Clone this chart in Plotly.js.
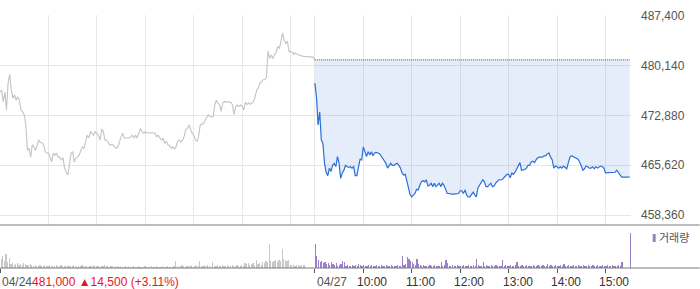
<!DOCTYPE html>
<html>
<head>
<meta charset="utf-8">
<script src="https://cdn.plot.ly/plotly-3.0.1.min.js"></script>
<style>
html,body{margin:0;padding:0;background:#fff;}
#chart{width:700px;height:289px;}
</style>
</head>
<body>
<div id="chart"></div>
<script>
// Intraday sampling times (shared by both sessions)
const times = [
"09:00","09:02","09:04","09:06","09:08","09:10","09:12","09:14","09:16","09:18","09:20","09:22","09:24","09:26","09:28","09:30","09:32","09:34","09:36","09:38","09:40","09:42","09:44","09:46","09:48","09:50","09:52","09:54","09:56","09:58",
"10:00","10:02","10:04","10:06","10:08","10:10","10:12","10:14","10:16","10:18","10:20","10:22","10:24","10:26","10:28","10:30","10:32","10:34","10:36","10:38","10:40","10:42","10:44","10:46","10:48","10:50","10:52","10:54","10:56","10:58",
"11:00","11:02","11:04","11:06","11:08","11:10","11:12","11:14","11:16","11:18","11:20","11:22","11:24","11:26","11:28","11:30","11:32","11:34","11:36","11:38","11:40","11:42","11:44","11:46","11:48","11:50","11:52","11:54","11:56","11:58",
"12:00","12:02","12:04","12:06","12:08","12:10","12:12","12:14","12:16","12:18","12:20","12:22","12:24","12:26","12:28","12:30","12:32","12:34","12:36","12:38","12:40","12:42","12:44","12:46","12:48","12:50","12:52","12:54","12:56","12:58",
"13:00","13:02","13:04","13:06","13:08","13:10","13:12","13:14","13:16","13:18","13:20","13:22","13:24","13:26","13:28","13:30","13:32","13:34","13:36","13:38","13:40","13:42","13:44","13:46","13:48","13:50","13:52","13:54","13:56","13:58",
"14:00","14:02","14:04","14:06","14:08","14:10","14:12","14:14","14:16","14:18","14:20","14:22","14:24","14:26","14:28","14:30","14:32","14:34","14:36","14:38","14:40","14:42","14:44","14:46","14:48","14:50","14:52","14:54","14:56","14:58",
"15:00","15:02","15:04","15:06","15:08","15:10","15:12","15:14","15:16","15:18","15:20","15:22","15:24","15:26","15:28","15:30"
];

// 04/24 session prices
const priceDay1 = [
476300,476600,474900,476300,473700,477600,478900,476600,475400,475900,
475100,475600,475100,473700,473400,473000,471500,467800,468100,466800,
468600,468300,467800,468600,469300,468900,468900,468600,467600,467400,
467400,466800,466100,467400,467100,467400,466800,466800,466400,466700,
465200,464600,464200,465700,467400,467600,466100,466700,466800,467100,
467600,468300,468100,469100,470000,469600,470500,470300,470000,470500,
470300,470000,469300,470900,470500,469300,469300,468900,468600,468600,
468600,468300,468100,468300,469100,469800,470300,469600,469600,469600,
469600,469800,470000,469600,470000,469600,470300,471000,470500,470300,
470500,470300,470400,470300,470400,470300,470300,469800,470000,469600,
469300,469600,468800,469100,468600,468500,468100,468300,468000,468300,
469100,469300,469000,469200,469800,470800,471000,471500,470800,470300,
470000,469300,469100,469800,471500,471600,471700,472200,472700,473000,
472700,472700,472700,474400,475100,474700,474400,473500,474800,474900,
474900,474900,474900,474800,474400,473000,474200,474400,474200,474400,
474200,473700,474800,474500,474700,474500,474700,474900,475600,476600,
476900,477600,477800,478100,478100,478400,482300,481200,481700,481200,
481800,482000,482900,482700,483700,484900,483900,483400,483700,482200,
482200,482100,481800,482000,481800,481700,481600,481600,481500,481500,
481500,481500,481500,481500,481400,481000
];

// 04/27 session prices
const priceDay2 = [
477600,475600,471500,473400,469300,468800,465900,464600,464100,465200,
464700,465600,465900,465400,466900,465900,463700,464500,464900,465600,
465400,465300,465400,465200,465400,464100,464100,465600,466500,466400,
468300,467600,466900,467600,467100,467600,467000,467400,467500,467400,
467300,467000,466600,466400,465900,465200,465600,465900,465600,465600,
465800,465900,465600,465200,464500,464200,464300,463300,462000,461300,
461000,461300,461500,462100,462000,462700,463200,463400,463200,463500,
462600,462700,463000,462500,463000,462500,462700,463000,462500,463000,
462700,462000,461500,461500,461400,461400,461400,461400,461400,461500,
461900,461900,461500,462000,461300,461000,461000,461300,461700,461300,
461000,462300,462700,463200,463500,463200,462500,462500,462700,463000,
462500,462600,463000,463300,463500,463500,463500,463800,464100,464300,
464300,463800,464500,464300,464600,465100,465400,466000,464900,464900,
465000,465200,465600,465600,466100,466200,466000,466400,466700,466800,
466800,466800,467000,467000,467300,467400,466800,466400,465200,465500,
465400,465200,465400,465200,465500,465300,465100,466000,466800,467000,
466900,466800,466700,466500,466100,465400,464900,465100,465500,465400,
465200,465200,465400,465100,465400,465200,465400,465500,465400,465200,
464500,464500,464500,464500,464500,464500,464600,464900,464600,464200,
463900,463900,463900,463900,463900,463900
];

// Volume (thousand shares)
const volDay1 = [
15,9,12,7,14,6,10,4,5,3,
4,5,3,4,3,5,4,3,3,4,
3,2,3,2,2,3,2,2,3,2,
2,3,2,2,2,3,2,2,3,2,
2,2,3,2,2,2,3,2,1,2,
2,3,2,2,2,1,2,2,3,2,
2,2,1,2,2,3,2,2,1,2,
2,1,2,2,1,2,1,1,2,1,
2,1,1,2,1,1,2,1,1,1,
2,1,1,1,2,1,1,2,1,1,
1,2,1,1,2,1,1,1,2,7,
2,1,2,3,2,1,2,2,3,2,
1,2,3,2,7,2,2,3,2,3,
2,1,6,2,2,3,2,2,3,2,
2,3,2,2,3,2,2,3,2,2,
3,2,5,4,5,3,4,5,3,8,
4,5,3,6,5,7,6,24,7,6,
7,8,6,8,7,19,9,8,7,8,
3,3,3,2,3,3,2,3,3,3,
0,0,0,0,0,0
];
const volDay2 = [
24,12,8,6,7,5,6,4,5,3,
6,4,3,5,2,3,4,7,6,2,
3,2,2,3,2,3,2,4,3,2,
3,2,2,3,2,3,2,2,3,2,
2,3,2,2,3,2,2,3,2,2,
2,3,2,2,12,3,4,11,9,7,
6,4,3,9,4,3,2,3,2,2,
2,3,2,2,3,2,2,2,6,2,
3,8,5,2,2,3,2,2,3,2,
2,2,3,2,2,3,2,2,3,2,
9,3,2,2,6,2,3,2,2,3,
2,2,3,2,2,2,8,2,3,2,
2,3,2,2,3,6,2,2,3,2,
2,3,2,2,2,3,2,2,3,2,
2,3,2,2,4,2,3,2,2,3,
2,2,3,2,4,2,2,3,2,2,
3,2,2,3,2,2,3,2,2,3,
2,2,3,2,2,3,2,2,3,2,
2,3,2,2,3,2,2,2,3,2,
6,0,0,0,0,35
];

const prevClose = 481000;           // 04/24 close (reference line for 04/27)
const dayLabels = ["04/24", "04/27"];
const hourLabels = ["10:00", "11:00", "12:00", "13:00", "14:00", "15:00"];
const priceInfo = "481,000 \u25B214,500 (+3.11%)";
const yTickVals = [458360, 465620, 472880, 480140, 487400];
const yTickText = ["458,360", "465,620", "472,880", "480,140", "487,400"];
const volumeLabel = "거래량";

// ---- build axis positions from the times ----
const SESSION = 390; // minutes 09:00-15:30
function toMin(t) { const p = t.split(":"); return (+p[0] - 9) * 60 + (+p[1]); }
const xDay1 = times.map(toMin);
const xDay2 = times.map(t => SESSION + toMin(t));
const hourX1 = [1,2,3,4,5,6].map(h => h * 60);
const hourX2 = hourLabels.map(t => SESSION + toMin(t));
const gridX = [0].concat(hourX1, [SESSION], hourX2);
const tickX2 = [0, SESSION].concat(hourX2);

const GRAY = '#c3c3c8', BLUE = '#2b6fd8', PURPLE = '#9a80c8', VGRAY = '#c8c8c8';

const XMAX = 2 * SESSION + 1.6;
const traces = [
  { x: xDay1, y: priceDay1, type: 'scatter', mode: 'lines', line: {color: GRAY, width: 1.1}, hoverinfo: 'skip', xaxis: 'x', yaxis: 'y' },
  { x: [SESSION, 2 * SESSION], y: [prevClose, prevClose], type: 'scatter', mode: 'lines',
    line: {color: '#555', width: 1, dash: '1px,1px'}, hoverinfo: 'skip', xaxis: 'x', yaxis: 'y' },
  { x: xDay2, y: priceDay2, type: 'scatter', mode: 'lines', line: {color: BLUE, width: 1.2},
    fill: 'tonexty', fillcolor: 'rgba(45,105,215,0.12)', hoverinfo: 'skip', xaxis: 'x', yaxis: 'y' },
  { x: xDay1, y: volDay1, type: 'bar', marker: {color: VGRAY, line: {width: 0}}, width: 1.5, hoverinfo: 'skip', xaxis: 'x2', yaxis: 'y2' },
  { x: xDay2, y: volDay2, type: 'bar', marker: {color: PURPLE, line: {width: 0}}, width: 1.5, hoverinfo: 'skip', xaxis: 'x2', yaxis: 'y2' }
];

const W = 700, H = 289, ML = 0, MT = 15, MB = 21;
const plotW = 630 * XMAX / (2 * SESSION);
const MR = W - ML - plotW;
const plotH = H - MT - MB;
const volFrac = 43 / plotH;
const pxX = px => (px - ML) / plotW;
const pxY = py => (H - MB - py) / plotH;

const FONT = '"Liberation Sans", Arial, "Noto Sans CJK KR", sans-serif';

const annotations = [
  { xref: 'x', yref: 'paper', x: 0, y: pxY(282), xanchor: 'left', yanchor: 'middle', showarrow: false,
    text: dayLabels[0] + '<span style="color:#e8141e">' + priceInfo + '</span>', font: {size: 12, color: '#555', family: FONT} },
  { xref: 'x', yref: 'paper', x: SESSION, y: pxY(282), xanchor: 'left', yanchor: 'middle', showarrow: false,
    text: dayLabels[1], font: {size: 12, color: '#555', family: FONT} },
  { xref: 'paper', yref: 'paper', x: pxX(657), y: pxY(238), xanchor: 'left', yanchor: 'middle', showarrow: false,
    text: volumeLabel, font: {size: 11, color: '#555', family: FONT} }
].concat(hourLabels.map((lab, i) => ({
  xref: 'x', yref: 'paper', x: hourX2[i], xshift: 9, y: pxY(282), xanchor: 'center', yanchor: 'middle', showarrow: false,
  text: lab, font: {size: 12, color: '#333', family: FONT}
})));

const layout = {
  width: W, height: H,
  margin: {l: ML, r: MR, t: MT, b: MB, pad: 0},
  paper_bgcolor: '#fff', plot_bgcolor: '#fff',
  showlegend: false,
  bargap: 0,
  font: {family: FONT, size: 12, color: '#555'},
  xaxis: { domain: [0, 1], range: [0, XMAX], anchor: 'y', tickvals: gridX, showticklabels: false, ticks: '',
           showgrid: true, gridcolor: '#e8e8e8', gridwidth: 1, zeroline: false, showline: false, fixedrange: true },
  yaxis: { domain: [volFrac, 1], range: [456900, 487546], side: 'right', anchor: 'x', tickvals: yTickVals, ticktext: yTickText,
           ticks: '', ticklabelstandoff: 9, showgrid: true, gridcolor: '#e6e6e6', zeroline: false, showline: false,
           tickfont: {size: 12, color: '#555', family: FONT} },
  xaxis2: { domain: [0, 1], matches: 'x', anchor: 'y2', tickvals: tickX2, showticklabels: false, ticks: 'outside', ticklen: 4,
            tickcolor: '#555', tickwidth: 1, showgrid: false, zeroline: false, showline: false },
  yaxis2: { domain: [0, volFrac], range: [0, 43], anchor: 'x2', showgrid: false, showticklabels: false, ticks: '', zeroline: false, showline: false },
  shapes: [
    { type: 'line', xref: 'paper', yref: 'paper', x0: 0, x1: W / plotW, y0: volFrac, y1: volFrac, line: {color: '#7a7a7a', width: 1} },
    { type: 'line', xref: 'paper', yref: 'paper', x0: 0, x1: W / plotW, y0: 0, y1: 0, line: {color: '#7a7a7a', width: 1} },
    { type: 'rect', xref: 'paper', yref: 'paper', x0: pxX(653), x1: pxX(656), y0: pxY(242), y1: pxY(234), fillcolor: PURPLE, line: {width: 0} }
  ],
  annotations: annotations
};

Plotly.newPlot('chart', traces, layout, {staticPlot: true, displayModeBar: false});
</script>
</body>
</html>
